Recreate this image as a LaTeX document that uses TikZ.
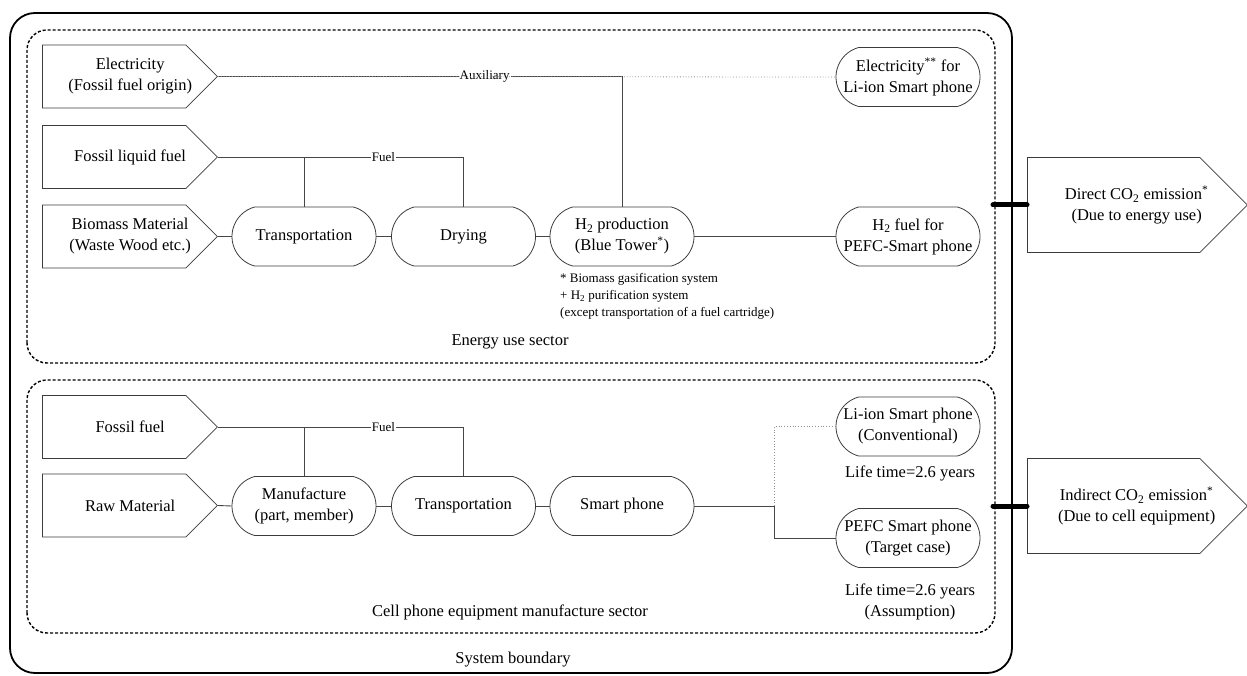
\documentclass[tikz,border=0pt]{standalone}
\usepackage{fontspec}
\setmainfont{Liberation Serif}
\usetikzlibrary{shapes.symbols,shapes.misc}

\begin{document}
\begin{tikzpicture}[x=1pt,y=1pt,
  font=\fontsize{16.5}{21}\selectfont,
  flowtext/.style={align=center,inner sep=0pt},
  inflow/.style={signal,signal to=east,signal pointer angle=90,draw=nodeColor,line width=0.8pt,
    minimum width=175,minimum height=63,inner sep=0pt,
    label={[flowtext,xshift=16pt]center:#1}},
  outflow/.style={signal,signal to=east,signal pointer angle=90,draw=nodeColor,line width=0.8pt,
    minimum width=220,minimum height=95,inner sep=0pt,
    label={[flowtext,xshift=23pt]center:#1}},
  process/.style={rounded rectangle,rounded rectangle arc length=150,draw=nodeColor,line width=0.8pt,
    minimum width=144,minimum height=59,align=center,inner sep=0pt},
  flow/.style={draw=lineColor,line width=0.9pt},
  aux/.style={draw=lineColor!60,line width=0.8pt,dotted},
  tag/.style={fill=white,inner sep=1pt,font=\fontsize{13}{16}\selectfont},
  note/.style={align=center,inner sep=0pt},
  sector/.style={draw=black,line width=1.4pt,dash pattern=on 3pt off 2pt,rounded corners=20},
  bar/.style={draw=black,line width=5pt,line cap=round}]
\definecolor{nodeColor}{RGB}{60,60,60}
\definecolor{lineColor}{RGB}{70,70,70}
\path[use as bounding box,fill=white] (0,0) rectangle (1247,675);

% system boundary and the two sectors
\path[draw=black,line width=1.8pt,rounded corners=25] (10,2) rectangle (1012,662);
\path[sector] (27,312) rectangle (995,645);
\path[sector] (27,42) rectangle (995,295);

% energy use sector
\node[inflow={Electricity\\(Fossil fuel origin)},anchor=west] (elec) at (42,598.5) {};
\node[inflow={Fossil liquid fuel},anchor=west] (liq) at (42,518) {};
\node[inflow={Biomass Material\\(Waste Wood etc.)},anchor=west] (bio) at (42,438.5) {};

\node[process] (trans1) at (304,438.5) {Transportation};
\node[process] (dry) at (463.5,438.5) {Drying};
\node[process] (htwo) at (622,438.5) {H\textsubscript{2} production\\(Blue Tower\textsuperscript{*})};
\node[process] (elecli) at (908,598) {Electricity\textsuperscript{**} for\\Li-ion Smart phone};
\node[process] (hfuel) at (908,438.5) {H\textsubscript{2} fuel for\\PEFC-Smart phone};

\node[anchor=west,align=left,inner sep=0pt,font=\fontsize{13}{17}\selectfont] (foot) at (560,379)
  {* Biomass gasification system\\+ H\textsubscript{2} purification system\\(except transportation of a fuel cartridge)};
\node[note] (esec) at (510,333) {Energy use sector};

\path[flow] (elec.east) -| node[tag,pos=0.33] {Auxiliary} (htwo.north);
\path[aux] (elec.east) -- (elecli.west);
\path[flow] (liq.east) -| node[tag,pos=0.337] {Fuel} (dry.north);
\path[flow] (trans1.north) -- (trans1.north |- liq.east);
\path[flow] (bio.east) -- (trans1.west);
\path[flow] (trans1.east) -- (dry.west);
\path[flow] (dry.east) -- (htwo.west);
\path[flow] (htwo.east) -- (hfuel.west);

% cell phone equipment manufacture sector
\node[inflow={Fossil fuel},anchor=west] (ffuel) at (42,248) {};
\node[inflow={Raw Material},anchor=west] (raw) at (42,169.5) {};

\node[process] (manu) at (304,169) {Manufacture\\(part, member)};
\node[process] (trans2) at (463.5,169) {Transportation};
\node[process] (phone) at (622,169) {Smart phone};
\node[process] (liion) at (908,248.5) {Li-ion Smart phone\\(Conventional)};
\node[process] (pefc) at (908,137) {PEFC Smart phone\\(Target case)};

\node[note] (life1) at (910,202) {Life time=2.6 years};
\node[note] (life2) at (910,73) {Life time=2.6 years\\(Assumption)};
\node[note] (csec) at (510,63) {Cell phone equipment manufacture sector};
\node[note] (sysb) at (513,15) {System boundary};

\coordinate (split) at (774,169);
\path[flow] (ffuel.east) -| node[tag,pos=0.337] {Fuel} (trans2.north);
\path[flow] (manu.north) -- (manu.north |- ffuel.east);
\path[flow] (raw.east) -- (manu.west);
\path[flow] (manu.east) -- (trans2.west);
\path[flow] (trans2.east) -- (phone.west);
\path[flow] (phone.east) -- (split) |- (pefc.west);
\path[aux] (split) |- (liion.west);

% emissions leaving the boundary
\node[outflow={Direct CO\textsubscript{2} emission\textsuperscript{*}\\(Due to energy use)},anchor=west] (direct) at (1027,470) {};
\node[outflow={Indirect CO\textsubscript{2} emission\textsuperscript{*}\\(Due to cell equipment)},anchor=west] (indirect) at (1027,169) {};
\coordinate (edgeA) at (993,470);
\coordinate (edgeB) at (993,169);
\path[bar] (edgeA) -- (direct.west);
\path[bar] (edgeB) -- (indirect.west);
\end{tikzpicture}
\end{document}
